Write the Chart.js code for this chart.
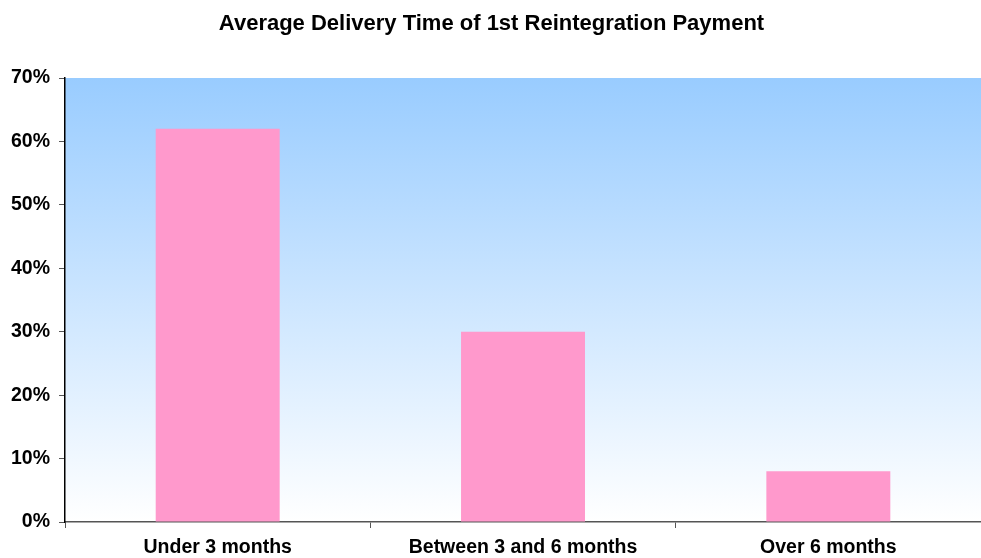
<!DOCTYPE html>
<html>
<head>
<meta charset="utf-8">
<script src="https://cdn.jsdelivr.net/npm/chart.js@4/dist/chart.umd.min.js"></script>
<style>
  html, body { margin: 0; padding: 0; background: #fff; }
  #wrap { width: 981px; height: 558px; }
</style>
</head>
<body>
<div id="wrap"><canvas id="chart" width="981" height="558"></canvas></div>
<script>
// datos
const categorias = ["Under 3 months", "Between 3 and 6 months", "Over 6 months"];
const porcentajes = [62, 30, 8];
const marcasY = [0, 10, 20, 30, 40, 50, 60, 70];

// fondo degradado del area del grafico
const fondoDegradado = {
  id: "fondoDegradado",
  beforeDraw(chart) {
    const { ctx, chartArea: a } = chart;
    const g = ctx.createLinearGradient(0, a.top, 0, a.bottom);
    g.addColorStop(0, "#99CCFF");
    g.addColorStop(1, "#FFFFFF");
    ctx.save();
    ctx.fillStyle = g;
    ctx.fillRect(a.left, a.top, a.right - a.left, a.bottom - a.top);
    ctx.restore();
  }
};

const fuenteEjes = { family: "Liberation Sans", size: 19.5, weight: "bold", lineHeight: 1 };

new Chart(document.getElementById("chart"), {
  type: "bar",
  data: {
    labels: categorias,
    datasets: [{
      data: porcentajes,
      backgroundColor: "#FF99CC",
      borderWidth: 0,
      categoryPercentage: 1,
      barPercentage: 0.406
    }]
  },
  options: {
    responsive: false,
    animation: false,
    layout: { padding: { top: 0, right: 0, bottom: 0, left: 2 } },
    plugins: {
      legend: { display: false },
      tooltip: { enabled: false },
      title: {
        display: true,
        text: "Average Delivery Time of 1st Reintegration Payment",
        color: "#000",
        font: { family: "Liberation Sans", size: 22, weight: "bold" },
        padding: { top: 11, bottom: 40.6 }
      }
    },
    scales: {
      x: {
        afterFit(scale) { scale.height = 36; },
        grid: { drawOnChartArea: false, drawTicks: true, tickLength: 6, color: "#555", offset: true },
        border: { display: true, color: "#555", width: 1.5 },
        ticks: { color: "#000", font: fuenteEjes, padding: 10, maxRotation: 0 }
      },
      y: {
        min: 0,
        max: 70,
        afterBuildTicks(axis) { axis.ticks = marcasY.map(v => ({ value: v })); },
        grid: { drawOnChartArea: false, drawTicks: true, tickLength: 6, color: "#555" },
        border: { display: true, color: "#000", width: 1.5 },
        ticks: {
          color: "#000",
          font: fuenteEjes,
          padding: 9,
          callback: v => v + "%"
        }
      }
    }
  },
  plugins: [fondoDegradado]
});
</script>
</body>
</html>
